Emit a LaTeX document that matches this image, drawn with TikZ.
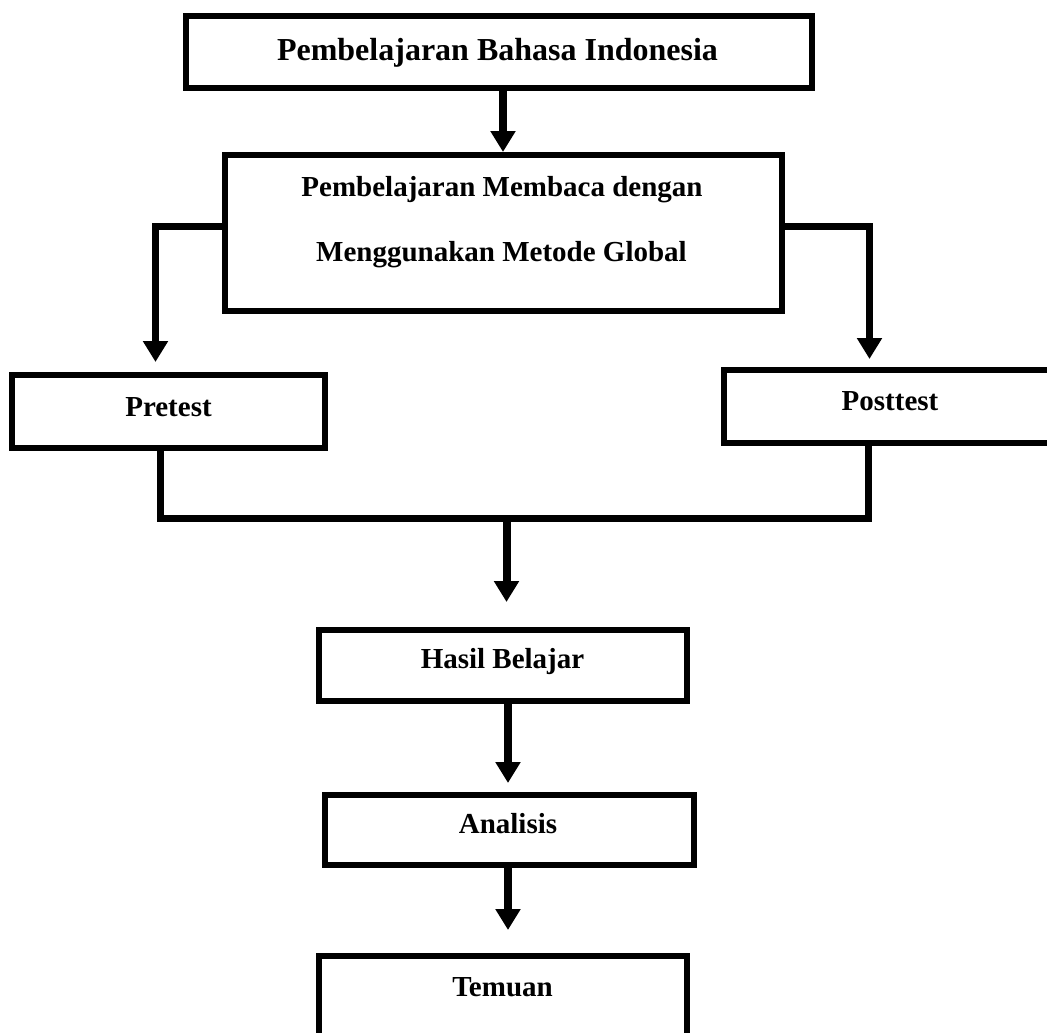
\documentclass[tikz,border=0pt]{standalone}
\usepackage{fontspec}
\setmainfont{Liberation Serif}
\usetikzlibrary{arrows.meta}
\tikzset{
  boxnode/.style={draw=black, line width=6pt, rectangle, inner sep=0pt, line join=miter, fill=white},
  txt/.style={anchor=base, inner sep=0pt, font=\fontsize{29}{35}\selectfont\bfseries},
  bigtxt/.style={txt, font=\fontsize{32}{38}\selectfont\bfseries},
  conn/.style={draw=black, line width=7pt, line join=miter},
  arr/.style={draw=black, line width=8pt, -{Triangle[width=24pt,length=21pt]}},
}
\begin{document}
\begin{tikzpicture}[x=1pt,y=-1pt]
\useasboundingbox (0,0) rectangle (1047,1033);
% boxes
\node[boxnode, minimum width=626pt, minimum height=72pt] (b1) at (499,52) {};
\node[boxnode, minimum width=557.5pt, minimum height=155.5pt] (b2) at (503.25,232.75) {};
\node[boxnode, minimum width=313pt, minimum height=73pt] (pre) at (168.5,411.5) {};
\node[boxnode, minimum width=332pt, minimum height=72.5pt] (post) at (890,406.25) {};
\node[boxnode, minimum width=368.5pt, minimum height=71pt] (hasil) at (502.75,665.5) {};
\node[boxnode, minimum width=369.5pt, minimum height=70pt] (anal) at (509.25,830) {};
\node[boxnode, minimum width=368pt, minimum height=90pt] (tem) at (503,1000.5) {};
% texts
\node[bigtxt] (t1) at (497.5,61) {Pembelajaran Bahasa Indonesia};
\node[txt] (t2a) at (502,196) {Pembelajaran Membaca dengan};
\node[txt] (t2b) at (501.5,261) {Menggunakan Metode Global};
\node[txt] (t3) at (168.5,416) {Pretest};
\node[txt] (t4) at (890,410) {Posttest};
\node[txt] (t5) at (502.5,668) {Hasil Belajar};
\node[txt] (t6) at (508,833) {Analisis};
\node[txt] (t7) at (502.5,996) {Temuan};
% free ends
\coordinate (preIn) at (155.5,362);
\coordinate (postIn) at (869.5,359);
\coordinate (jl) at (160.5,518.5);
\coordinate (jr) at (868.5,518.5);
\coordinate (jm) at (506.5,518.5);
% connectors
\draw[arr] (503,0 |- b1.south) -- (503,0 |- b2.north);
\draw[conn] (b2.west |- 0,226.5) -| ([yshift=12pt]preIn);
\draw[arr] ([yshift=14pt]preIn) -- (preIn);
\draw[conn] (b2.east |- 0,226.5) -| ([yshift=12pt]postIn);
\draw[arr] ([yshift=14pt]postIn) -- (postIn);
\draw[conn] (160.5,0 |- pre.south) -- (jl) -- (jr) -- (868.5,0 |- post.south);
\draw[arr] (jm) -- (506.5,602);
\draw[arr] (508,0 |- hasil.south) -- (508,783);
\draw[arr] (508,0 |- anal.south) -- (508,930);
\end{tikzpicture}
\end{document}
